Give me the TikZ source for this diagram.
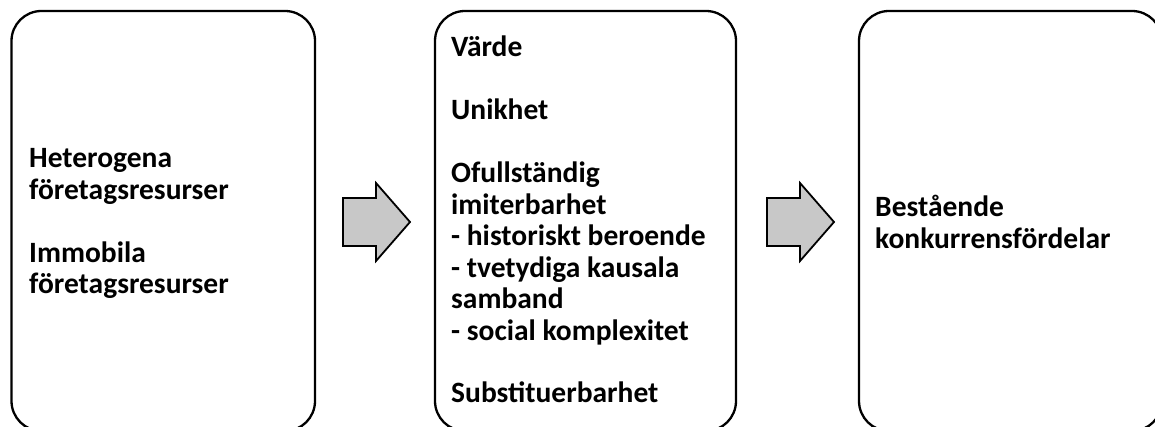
\documentclass[tikz,border=0pt]{standalone}
\usepackage{fontspec}
\setmainfont{Carlito}
\definecolor{arrowgray}{RGB}{200,200,200}
\begin{document}
\begin{tikzpicture}[x=1pt,y=-1pt,
  box/.style={draw=black,line width=2.3pt,rounded corners=30pt,inner sep=0pt},
  blockarrow/.style={draw=black,fill=arrowgray,line width=1.8pt,line join=miter},
  txt/.style={anchor=base west,inner sep=0pt,font=\fontsize{29.5}{31.45}\selectfont\bfseries}]
\useasboundingbox (0,0) rectangle (1155,427);
\begin{scope}
\clip (0,0) rectangle (1155,427);
\node[box,minimum width=303.5pt,minimum height=420pt] (b1) at (163.25,221) {};
\node[box,minimum width=301pt,minimum height=420pt] (b2) at (585.5,221) {};
\node[box,minimum width=303pt,minimum height=420pt] (b3) at (1010.5,221) {};
\end{scope}
\node[txt] (t1) at (29,168) {\begin{tabular}[t]{@{}l@{}}Heterogena\\företagsresurser\\ \\Immobila\\företagsresurser\end{tabular}};
\node[txt] (t2) at (451,57) {\begin{tabular}[t]{@{}l@{}}Värde\\ \\Unikhet\\ \\Ofullständig\\imiterbarhet\\- historiskt beroende\\- tvetydiga kausala\\samband\\- social komplexitet\\ \\Substituerbarhet\end{tabular}};
\node[txt] (t3) at (875,217) {\begin{tabular}[t]{@{}l@{}}Bestående\\konkurrensfördelar\end{tabular}};
\coordinate (a1) at (343,222);
\coordinate (a2) at (767,222);
\draw[blockarrow] (a1) ++(0,-24) -- ++(33,0) -- ++(0,-15) -- ++(34,39) -- ++(-34,39) -- ++(0,-15) -- ++(-33,0) -- cycle;
\draw[blockarrow] (a2) ++(0,-24) -- ++(33,0) -- ++(0,-15) -- ++(34,39) -- ++(-34,39) -- ++(0,-15) -- ++(-33,0) -- cycle;
\end{tikzpicture}
\end{document}
